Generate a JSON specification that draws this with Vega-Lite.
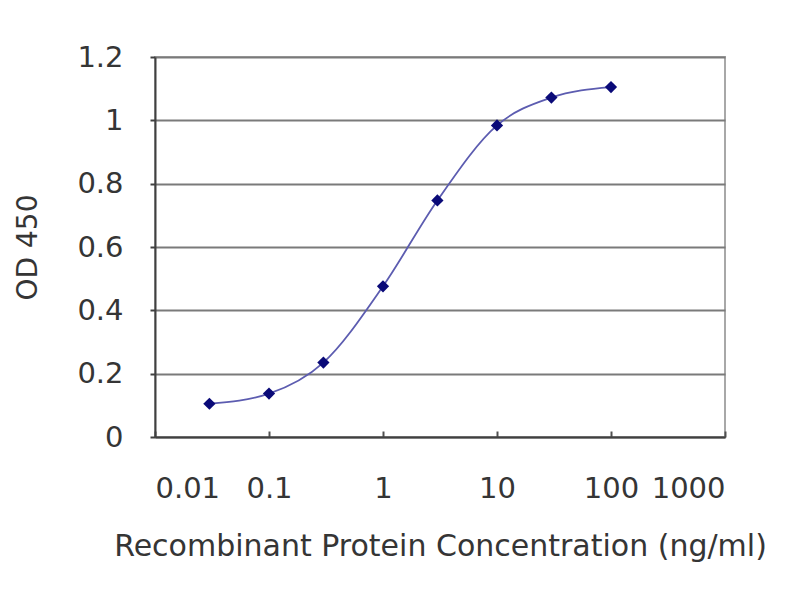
{
  "$schema": "https://vega.github.io/schema/vega-lite/v6.json",
  "autosize": "none",
  "width": 570,
  "height": 380,
  "padding": {"left": 155, "top": 57, "right": 75, "bottom": 163},
  "background": "white",
  "config": {
    "view": {"stroke": "#a8a8a8", "strokeWidth": 2},
    "font": "DejaVu Sans"
  },
  "data": {
    "values": [
      {"conc": 0.03, "od": 0.105},
      {"conc": 0.1, "od": 0.137},
      {"conc": 0.3, "od": 0.235},
      {"conc": 1, "od": 0.476},
      {"conc": 3, "od": 0.747},
      {"conc": 10, "od": 0.984},
      {"conc": 30, "od": 1.072},
      {"conc": 100, "od": 1.105}
    ]
  },
  "encoding": {
    "x": {
      "field": "conc",
      "type": "quantitative",
      "scale": {"type": "log", "domain": [0.01, 1000], "nice": false},
      "axis": {
        "title": "Recombinant Protein Concentration (ng/ml)",
        "values": [0.01, 0.1, 1, 10, 100, 1000],
        "format": "~g",
        "grid": false,
        "domainColor": "#404040",
        "domainWidth": 2,
        "tickColor": "#505050",
        "tickWidth": 2,
        "tickSize": -6,
        "labelPadding": 43,
        "labelFontSize": 29,
        "labelColor": "#353535",
        "labelFont": "DejaVu Sans",
        "titleFontSize": 30,
        "titleFontWeight": "normal",
        "titleColor": "#353535",
        "titleFont": "DejaVu Sans",
        "titlePadding": 28
      }
    },
    "y": {
      "field": "od",
      "type": "quantitative",
      "scale": {"domain": [0, 1.2], "nice": false},
      "axis": {
        "title": "OD 450",
        "values": [0, 0.2, 0.4, 0.6, 0.8, 1, 1.2],
        "format": "~g",
        "grid": true,
        "gridColor": "#7a7a7a",
        "gridWidth": 2,
        "domainColor": "#404040",
        "domainWidth": 2,
        "tickColor": "#404040",
        "tickWidth": 2,
        "tickSize": 5,
        "labelPadding": 27,
        "labelFontSize": 29,
        "labelColor": "#353535",
        "labelFont": "DejaVu Sans",
        "titleFontSize": 28,
        "titleFontWeight": "normal",
        "titleColor": "#353535",
        "titleFont": "DejaVu Sans",
        "titlePadding": 34
      }
    }
  },
  "layer": [
    {
      "mark": {"type": "line", "interpolate": "monotone", "color": "#5c5cb0", "strokeWidth": 1.8}
    },
    {
      "mark": {"type": "point", "shape": "diamond", "filled": true, "color": "#0a0a78", "size": 150, "opacity": 1}
    }
  ]
}
